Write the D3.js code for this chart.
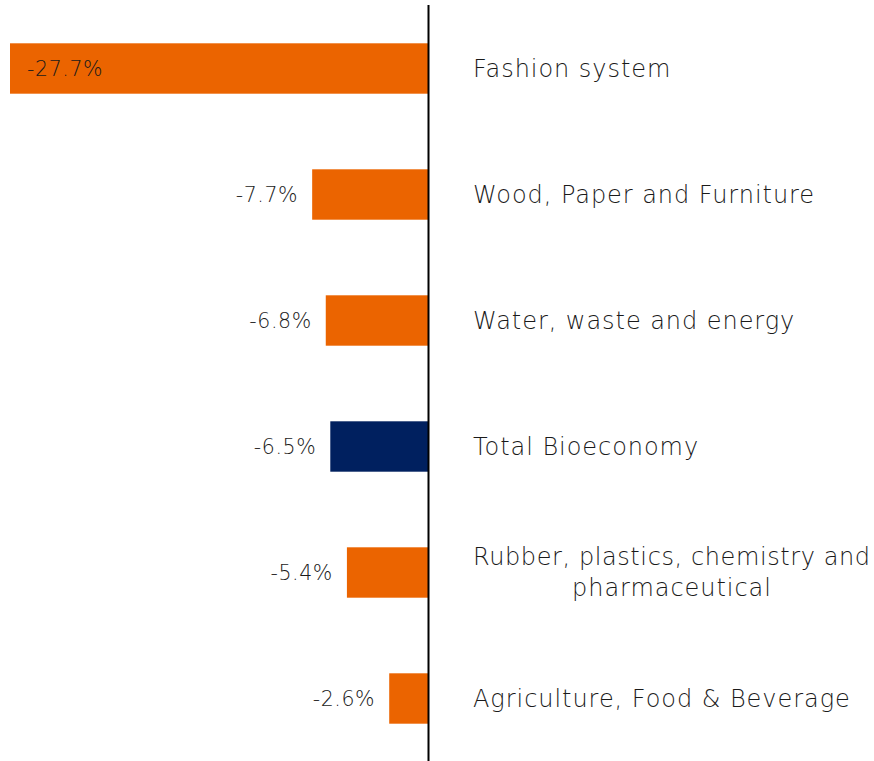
<!DOCTYPE html>
<html>
<head>
<meta charset="utf-8">
<script src="https://cdn.jsdelivr.net/npm/d3@7"></script>
<style>
  html, body { margin: 0; padding: 0; background: #fff; }
  svg { display: block; }
</style>
</head>
<body>
<div id="chart"></div>
<script>
// data
const categories = [
    'Fashion system',
    'Wood, Paper and Furniture',
    'Water, waste and energy',
    'Total Bioeconomy',
    'Rubber, plastics, chemistry and\npharmaceutical',
    'Agriculture, Food & Beverage'
];
const values = [-27.7, -7.7, -6.8, -6.5, -5.4, -2.6];
const highlight = 'Total Bioeconomy';

const width = 874;
const height = 761;
const fontFamily = '"DejaVu Sans", sans-serif';

const svg = d3.select('#chart')
    .append('svg')
    .attr('width', width)
    .attr('height', height);

const x = d3.scaleLinear()
    .domain([-27.7, 0])
    .range([10, 428.5]);

const y = d3.scaleBand()
    .domain(categories)
    .range([5.5, 761.5])
    .paddingInner(0.6)
    .paddingOuter(0.3);

const rows = categories.map((c, i) => ({ cat: c, val: values[i] }));

// bars
svg.append('g')
    .selectAll('rect')
    .data(rows)
    .join('rect')
    .attr('x', d => x(d.val))
    .attr('y', d => y(d.cat))
    .attr('width', d => x(0) - x(d.val))
    .attr('height', y.bandwidth())
    .attr('fill', d => d.cat === highlight ? '#00205f' : '#eb6400');

// zero axis
svg.append('line')
    .attr('x1', x(0)).attr('x2', x(0))
    .attr('y1', 5).attr('y2', height)
    .attr('stroke', '#000')
    .attr('stroke-width', 2);

// value labels (plain hyphen like the original)
svg.append('g')
    .selectAll('text')
    .data(rows)
    .join('text')
    .attr('x', d => d.val < -20 ? x(d.val) + 17 : x(d.val) - 14)
    .attr('y', d => y(d.cat) + y.bandwidth() / 2)
    .attr('dy', '0.36em')
    .attr('text-anchor', d => d.val < -20 ? 'start' : 'end')
    .attr('font-family', fontFamily)
    .attr('font-weight', 200)
    .attr('font-size', 20.5)
    .attr('letter-spacing', 0.6)
    .attr('fill', '#1a1a1a')
    .text(d => d.val.toFixed(1) + '%');

// category labels
const labelX = 473;
const maxLabelW = 398;
const lineH = 31;
const labels = svg.append('g')
    .selectAll('text')
    .data(rows)
    .join('text')
    .attr('font-family', fontFamily)
    .attr('font-weight', 200)
    .attr('font-size', 24)
    .attr('letter-spacing', 0.95)
    .attr('fill', '#1a1a1a');

labels.each(function (d) {
    const el = d3.select(this);
    const lines = d.cat.split('\n');
    const cy = y(d.cat) + y.bandwidth() / 2;
    const top = cy - (lines.length - 1) * lineH / 2 - (lines.length - 1);
    const spans = lines.map((t, i) => el.append('tspan')
        .attr('y', top + i * lineH)
        .attr('dy', '0.36em')
        .text(t));
    // squeeze lines that would run past the right edge
    const widths = spans.map(s => {
        const w = s.node().getComputedTextLength();
        if (w > maxLabelW) {
            s.attr('textLength', maxLabelW).attr('lengthAdjust', 'spacing');
            return maxLabelW;
        }
        return w;
    });
    // multi-line: centre lines on the longest one
    const maxW = d3.max(widths);
    spans.forEach((s, i) => s.attr('x', labelX + (maxW - widths[i]) / 2));
});
</script>
</body>
</html>
